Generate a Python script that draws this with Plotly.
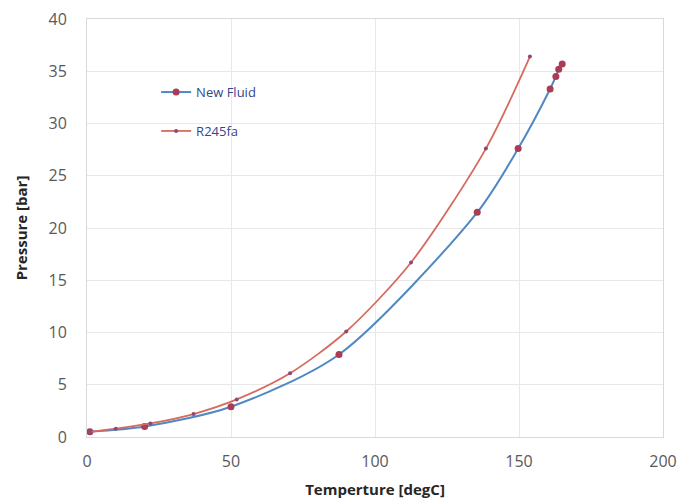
import plotly.graph_objects as go

# New Fluid (blue curve, large markers)
nf_temp = [1, 20, 50, 87.5, 135.5, 149.7, 160.8, 162.8, 163.8, 165.0]
nf_pres = [0.5, 1.0, 2.9, 7.9, 21.5, 27.6, 33.3, 34.5, 35.2, 35.7]

# R245fa (red curve, small markers)
r_temp = [1, 10, 22, 37, 52, 70.5, 90, 112.5, 138.5, 153.8]
r_pres = [0.5, 0.8, 1.3, 2.2, 3.6, 6.1, 10.1, 16.7, 27.6, 36.4]

x_ticks = [0, 50, 100, 150, 200]
y_ticks = [0, 5, 10, 15, 20, 25, 30, 35, 40]

fig = go.Figure()
fig.add_trace(go.Scatter(
    x=nf_temp, y=nf_pres, name="New Fluid", mode="lines+markers",
    line=dict(color="#5088c4", width=2, shape="spline", smoothing=0.8),
    marker=dict(color="#a83d55", size=7, symbol="circle"),
    legendgroup="a",
))
fig.add_trace(go.Scatter(
    x=r_temp, y=r_pres, name="R245fa", mode="lines+markers",
    line=dict(color="#d76a5e", width=1.8, shape="spline", smoothing=0.8),
    marker=dict(color="#8a4a78", size=4, symbol="circle"),
    legendgroup="b",
))

fig.update_layout(
    width=681, height=501,
    margin=dict(l=87, r=18, t=19, b=64),
    paper_bgcolor="white", plot_bgcolor="white",
    font=dict(family="Open Sans, sans-serif", color="#595959"),
    showlegend=True,
    legend=dict(
        x=0.12, y=0.861, xanchor="left", yanchor="top",
        bgcolor="rgba(0,0,0,0)",
        font=dict(size=13, color="#34468a"),
        tracegroupgap=19, traceorder="grouped",
    ),
    xaxis=dict(
        range=[0, 200], tickvals=x_ticks, ticktext=[str(v) for v in x_ticks],
        showgrid=True, gridcolor="#e8e8e8", gridwidth=1,
        zeroline=False, showline=True, linecolor="#d9d9d9", mirror=True,
        ticks="outside", ticklen=10, tickcolor="rgba(0,0,0,0)",
        tickfont=dict(size=16, color="#595959"),
        automargin=False, ticklabeloverflow="allow",
        title=dict(text="<b>Temperture [degC]</b>", font=dict(size=15, color="#262626"), standoff=13),
    ),
    yaxis=dict(
        range=[0, 40], tickvals=y_ticks, ticktext=[str(v) for v in y_ticks],
        showgrid=True, gridcolor="#e8e8e8", gridwidth=1,
        zeroline=False, showline=True, linecolor="#d9d9d9", mirror=True,
        ticks="outside", ticklen=16, tickcolor="rgba(0,0,0,0)",
        tickfont=dict(size=16, color="#595959"),
        automargin=False, ticklabeloverflow="allow",
        title=dict(text="<b>Pressure [bar]</b>", font=dict(size=15, color="#262626"), standoff=17),
    ),
)

fig.write_html("out.html", config={"displayModeBar": False},
               post_script="document.body.style.margin='0px';")
